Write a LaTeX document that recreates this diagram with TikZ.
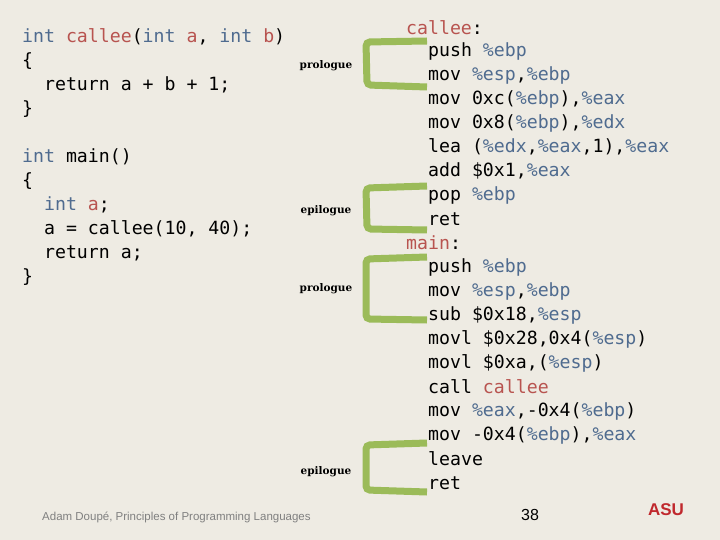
\documentclass[tikz,border=0pt]{standalone}
\usepackage{fontspec}
\setmonofont{DejaVu Sans Mono}
\newfontfamily\labfont{DejaVu Serif}
\newfontfamily\footfont{Liberation Sans}
\definecolor{bg}{HTML}{EEEBE3}
\definecolor{grn}{HTML}{9BBB59}
\definecolor{kw}{HTML}{B85450}
\definecolor{rg}{HTML}{4F6B8F}
\definecolor{asured}{HTML}{C0282D}
\newcommand{\R}[1]{\textcolor{rg}{#1}}
\newcommand{\K}[1]{\textcolor{kw}{#1}}
\begin{document}
\begin{tikzpicture}[x=1pt,y=-1pt,
  code/.style={anchor=west,inner sep=0pt,font=\ttfamily\fontsize{18.2}{20}\selectfont},
  lab/.style={anchor=center,inner sep=0pt,font=\labfont\bfseries\fontsize{10.5}{12}\selectfont},
  brk/.style={draw=grn,line width=7pt,rounded corners=4pt}]
\fill[bg] (0,0) rectangle (720,540);
\useasboundingbox (0,0) rectangle (720,540);
% left code
\node[code] (l1) at (22,37) {\R{int} \K{callee}(\R{int} \K{a}, \R{int} \K{b})};
\node[code] (l2) at (22,61) {\{};
\node[code] (l3) at (22,85) {\ \ return a + b + 1;};
\node[code] (l4) at (22,109) {\}};
\node[code] (l5) at (22,157) {\R{int} main()};
\node[code] (l6) at (22,181) {\{};
\node[code] (l7) at (22,205) {\ \ \R{int} \K{a};};
\node[code] (l8) at (22,229) {\ \ a = callee(10, 40);};
\node[code] (l9) at (22,253) {\ \ return a;};
\node[code] (l10) at (22,277) {\}};
% right code
\node[code] (r0) at (406,28) {\K{callee}:};
\node[code] (r1) at (428,51) {push \R{\%ebp}};
\node[code] (r2) at (428,75) {mov \R{\%esp},\R{\%ebp}};
\node[code] (r3) at (428,99) {mov 0xc(\R{\%ebp}),\R{\%eax}};
\node[code] (r4) at (428,123) {mov 0x8(\R{\%ebp}),\R{\%edx}};
\node[code] (r5) at (428,147) {lea (\R{\%edx},\R{\%eax},1),\R{\%eax}};
\node[code] (r6) at (428,171) {add \$0x1,\R{\%eax}};
\node[code] (r7) at (428,195) {pop \R{\%ebp}};
\node[code] (r8) at (428,219) {ret};
\node[code] (r9) at (406,243) {\K{main}:};
\node[code] (r10) at (428,267) {push \R{\%ebp}};
\node[code] (r11) at (428,291) {mov \R{\%esp},\R{\%ebp}};
\node[code] (r12) at (428,315) {sub \$0x18,\R{\%esp}};
\node[code] (r13) at (428,339) {movl \$0x28,0x4(\R{\%esp})};
\node[code] (r14) at (428,363) {movl \$0xa,(\R{\%esp})};
\node[code] (r15) at (428,387) {call \K{callee}};
\node[code] (r16) at (428,411) {mov \R{\%eax},-0x4(\R{\%ebp})};
\node[code] (r17) at (428,435) {mov -0x4(\R{\%ebp}),\R{\%eax}};
\node[code] (r18) at (428,459) {leave};
\node[code] (r19) at (428,483) {ret};
% brackets
\draw[brk] (427,41) -- (366,42) -- (367,85) -- (427,87);
\draw[brk] (427,186) -- (366,188) -- (367,229) -- (427,230);
\draw[brk] (427,257) -- (366,259) -- (366,319) -- (427,320);
\draw[brk] (427,443) -- (366,445) -- (366,490) -- (427,492);
\node[lab] (p1) at (326,66) {prologue};
\node[lab] (e1) at (326,211) {epilogue};
\node[lab] (p2) at (326,289) {prologue};
\node[lab] (e2) at (326,472) {epilogue};
% footer
\node[anchor=west,inner sep=0pt,text=gray,font=\footfont\fontsize{11.5}{13}\selectfont] (ft) at (42,517) {Adam Doupé, Principles of Programming Languages};
\node[inner sep=0pt,font=\footfont\fontsize{16}{18}\selectfont] (pg) at (530,515) {38};
\node[inner sep=0pt,text=asured,font=\footfont\bfseries\fontsize{17}{18}\selectfont] (asu) at (666,510) {ASU};
\end{tikzpicture}
\end{document}
